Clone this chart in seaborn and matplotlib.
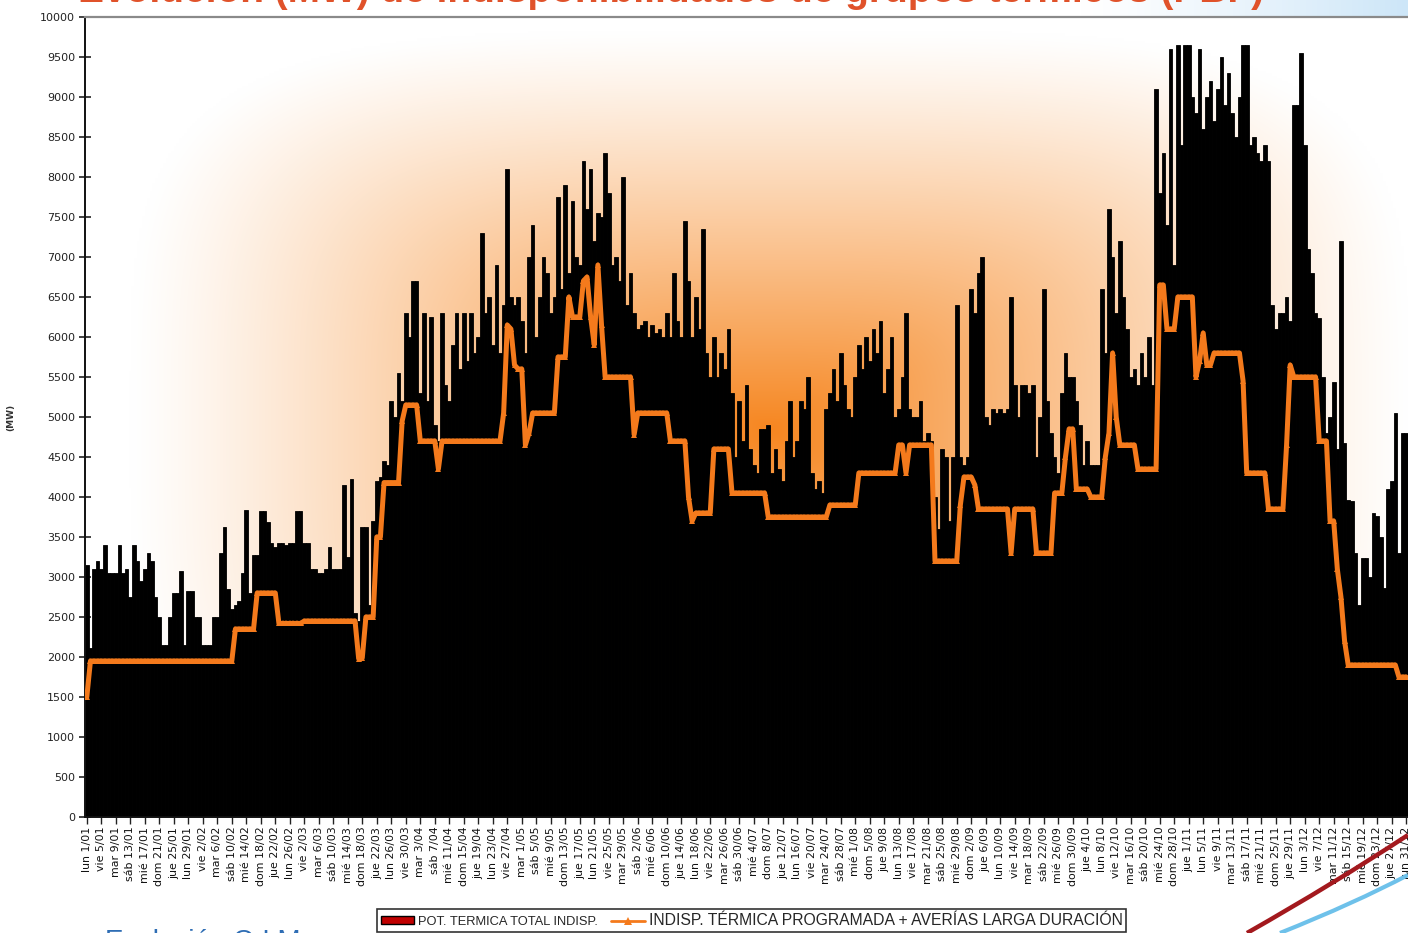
import numpy as np
import matplotlib
matplotlib.use("Agg")
import matplotlib.pyplot as plt
import seaborn as sns
from matplotlib.lines import Line2D
from matplotlib.patches import Patch, PathPatch
from matplotlib.path import Path

# ---------------------------------------------------------------------------
# Daily thermal unavailability 2007 (MW)
# ---------------------------------------------------------------------------
total_jan = [3150, 2110, 3100, 3200, 3100, 3400, 3050, 3050, 3050, 3400,
             3050, 3100, 2750, 3400, 3200, 2950, 3100, 3300, 3200, 2750,
             2500, 2150, 2150, 2500, 2800, 2800, 3080, 2150, 2830, 2830, 2500]
total_feb = [2500, 2150, 2150, 2150, 2500, 2500, 3300, 3630, 2850, 2600,
             2650, 2700, 3050, 3840, 2800, 3280, 3280, 3830, 3830, 3690,
             3420, 3380, 3420, 3420, 3400, 3420, 3420, 3830]
total_mar = [3830, 3420, 3420, 3100, 3100, 3050, 3050, 3100, 3380, 3100,
             3100, 3100, 4150, 3250, 4230, 2550, 2450, 3630, 3630, 2650,
             3700, 4200, 4250, 4450, 4400, 5200, 5000, 5550, 5200, 6300, 6000]
total_apr = [6700, 6700, 5300, 6300, 5200, 6250, 4900, 4700, 6300, 5400,
             5200, 5900, 6300, 5600, 6300, 5700, 6300, 5800, 6000, 7300,
             6300, 6500, 5900, 6900, 5800, 6400, 8100, 6500, 6400, 6500]
total_may = [6200, 5800, 7000, 7400, 6000, 6500, 7000, 6800, 6300, 6500,
             7750, 6600, 7900, 6800, 7700, 7000, 6900, 8200, 7600, 8100,
             7200, 7550, 7500, 8300, 7800, 6900, 7000, 6700, 8000, 6400, 6800]
total_jun = [6300, 6100, 6150, 6200, 6000, 6150, 6050, 6100, 6000, 6300,
             6000, 6800, 6200, 6000, 7450, 6700, 6000, 6500, 6100, 7350,
             5800, 5500, 6000, 5500, 5800, 5600, 6100, 5300, 4500, 5200]
total_jul = [4700, 5400, 4600, 4400, 4300, 4850, 4850, 4900, 4300, 4600,
             4350, 4200, 4700, 5200, 4500, 4700, 5200, 5100, 5500, 4300,
             4100, 4200, 4050, 5100, 5300, 5600, 5200, 5800, 5400, 5100, 5000]
total_aug = [5500, 5900, 5600, 6000, 5700, 6100, 5800, 6200, 5300, 5600,
             6000, 5000, 5100, 5500, 6300, 5100, 5000, 5000, 5200, 4700,
             4800, 4700, 4000, 3600, 4600, 4500, 3700, 4500, 6400, 4500, 4400]
total_sep = [4500, 6600, 6300, 6800, 7000, 5000, 4900, 5100, 5050, 5100,
             5050, 5100, 6500, 5400, 5000, 5400, 5400, 5300, 5400, 4500,
             5000, 6600, 5200, 4800, 4500, 4300, 5300, 5800, 5500, 5500]
total_oct = [5200, 4900, 4400, 4700, 4400, 4400, 4400, 6600, 5800, 7600,
             7000, 6300, 7200, 6500, 6100, 5500, 5600, 5400, 5800, 5500,
             6000, 5400, 9100, 7800, 8300, 7400, 9600, 6900, 9650, 8400, 9650]
total_nov = [9650, 9000, 8800, 9600, 8600, 9000, 9200, 8700, 9100, 9500,
             8900, 9300, 8800, 8500, 9000, 9650, 9650, 8400, 8500, 8300,
             8200, 8400, 8200, 6400, 6100, 6300, 6300, 6500, 6200, 8900]
total_dec = [8900, 9550, 8400, 7100, 6800, 6300, 6240, 5500, 4800, 5000,
             5440, 4600, 7200, 4680, 3960, 3950, 3300, 2650, 3240, 3240,
             3000, 3800, 3760, 3500, 2860, 4100, 4200, 5050, 3300, 4800, 4800]

prog_jan = [1500, 1950, 1950, 1950, 1950, 1950, 1950, 1950, 1950, 1950,
            1950, 1950, 1950, 1950, 1950, 1950, 1950, 1950, 1950, 1950,
            1950, 1950, 1950, 1950, 1950, 1950, 1950, 1950, 1950, 1950, 1950]
prog_feb = [1950, 1950, 1950, 1950, 1950, 1950, 1950, 1950, 1950, 1950,
            2350, 2350, 2350, 2350, 2350, 2350, 2800, 2800, 2800, 2800,
            2800, 2800, 2420, 2420, 2420, 2420, 2420, 2420]
prog_mar = [2420, 2450, 2450, 2450, 2450, 2450, 2450, 2450, 2450, 2450,
            2450, 2450, 2450, 2450, 2450, 2450, 1980, 1990, 2500, 2500,
            2500, 3500, 3500, 4180, 4180, 4180, 4180, 4180, 4950, 5150, 5150]
prog_apr = [5150, 5150, 4700, 4700, 4700, 4700, 4700, 4350, 4700, 4700,
            4700, 4700, 4700, 4700, 4700, 4700, 4700, 4700, 4700, 4700,
            4700, 4700, 4700, 4700, 4700, 5050, 6150, 6100, 5650, 5600]
prog_may = [5600, 4650, 4800, 5050, 5050, 5050, 5050, 5050, 5050, 5050,
            5750, 5750, 5750, 6500, 6250, 6250, 6250, 6700, 6750, 6250,
            5900, 6900, 6150, 5500, 5500, 5500, 5500, 5500, 5500, 5500, 5500]
prog_jun = [4780, 5050, 5050, 5050, 5050, 5050, 5050, 5050, 5050, 5050,
            4700, 4700, 4700, 4700, 4700, 4000, 3700, 3800, 3800, 3800,
            3800, 3800, 4600, 4600, 4600, 4600, 4600, 4050, 4050, 4050]
prog_jul = [4050, 4050, 4050, 4050, 4050, 4050, 4050, 3750, 3750, 3750,
            3750, 3750, 3750, 3750, 3750, 3750, 3750, 3750, 3750, 3750,
            3750, 3750, 3750, 3750, 3900, 3900, 3900, 3900, 3900, 3900, 3900]
prog_aug = [3900, 4300, 4300, 4300, 4300, 4300, 4300, 4300, 4300, 4300,
            4300, 4300, 4650, 4650, 4300, 4650, 4650, 4650, 4650, 4650,
            4650, 4650, 3200, 3200, 3200, 3200, 3200, 3200, 3200, 3900, 4250]
prog_sep = [4250, 4250, 4150, 3850, 3850, 3850, 3850, 3850, 3850, 3850,
            3850, 3850, 3300, 3850, 3850, 3850, 3850, 3850, 3850, 3300,
            3300, 3300, 3300, 3300, 4050, 4050, 4050, 4500, 4850, 4850]
prog_oct = [4100, 4100, 4100, 4100, 4000, 4000, 4000, 4000, 4500, 4800,
            5800, 5000, 4650, 4650, 4650, 4650, 4650, 4350, 4350, 4350,
            4350, 4350, 4350, 6650, 6650, 6100, 6100, 6100, 6500, 6500, 6500]
prog_nov = [6500, 6500, 5500, 5700, 6050, 5650, 5650, 5800, 5800, 5800,
            5800, 5800, 5800, 5800, 5800, 5450, 4300, 4300, 4300, 4300,
            4300, 4300, 3850, 3850, 3850, 3850, 3850, 4650, 5650, 5500]
prog_dec = [5500, 5500, 5500, 5500, 5500, 5500, 4700, 4700, 4700, 3700,
            3700, 3100, 2750, 2200, 1900, 1900, 1900, 1900, 1900, 1900,
            1900, 1900, 1900, 1900, 1900, 1900, 1900, 1900, 1750, 1750, 1750]

total_indisp = (total_jan + total_feb + total_mar + total_apr + total_may +
                total_jun + total_jul + total_aug + total_sep + total_oct +
                total_nov + total_dec)
programada = (prog_jan + prog_feb + prog_mar + prog_apr + prog_may +
              prog_jun + prog_jul + prog_aug + prog_sep + prog_oct +
              prog_nov + prog_dec)
days = np.arange(len(total_indisp))

tick_labels = [
    "lun 1/01", "vie 5/01", "mar 9/01", "sáb 13/01", "mié 17/01", "dom 21/01",
    "jue 25/01", "lun 29/01", "vie 2/02", "mar 6/02", "sáb 10/02", "mié 14/02",
    "dom 18/02", "jue 22/02", "lun 26/02", "vie 2/03", "mar 6/03", "sáb 10/03",
    "mié 14/03", "dom 18/03", "jue 22/03", "lun 26/03", "vie 30/03", "mar 3/04",
    "sáb 7/04", "mié 11/04", "dom 15/04", "jue 19/04", "lun 23/04", "vie 27/04",
    "mar 1/05", "sáb 5/05", "mié 9/05", "dom 13/05", "jue 17/05", "lun 21/05",
    "vie 25/05", "mar 29/05", "sáb 2/06", "mié 6/06", "dom 10/06", "jue 14/06",
    "lun 18/06", "vie 22/06", "mar 26/06", "sáb 30/06", "mié 4/07", "dom 8/07",
    "jue 12/07", "lun 16/07", "vie 20/07", "mar 24/07", "sáb 28/07", "mié 1/08",
    "dom 5/08", "jue 9/08", "lun 13/08", "vie 17/08", "mar 21/08", "sáb 25/08",
    "mié 29/08", "dom 2/09", "jue 6/09", "lun 10/09", "vie 14/09", "mar 18/09",
    "sáb 22/09", "mié 26/09", "dom 30/09", "jue 4/10", "lun 8/10", "vie 12/10",
    "mar 16/10", "sáb 20/10", "mié 24/10", "dom 28/10", "jue 1/11", "lun 5/11",
    "vie 9/11", "mar 13/11", "sáb 17/11", "mié 21/11", "dom 25/11", "jue 29/11",
    "lun 3/12", "vie 7/12", "mar 11/12", "sáb 15/12", "mié 19/12", "dom 23/12",
    "jue 27/12", "lun 31/12",
]
tick_step = 4
y_ticks = list(range(0, 10001, 500))

title = "Evolución (MW) de indisponibilidades de grupos térmicos (PBF)"
legend_total = "POT. TERMICA TOTAL INDISP."
legend_prog = "INDISP. TÉRMICA PROGRAMADA + AVERÍAS LARGA DURACIÓN"

ORANGE = "#F47A1C"
TITLE_RED = "#E0522A"

# ---------------------------------------------------------------------------
sns.set_theme(style="ticks")
plt.rcParams["font.family"] = ["DejaVu Sans"]

W, H = 1408, 933
fig = plt.figure(figsize=(W / 100, H / 100), dpi=100)
fig.patch.set_facecolor("white")

ax_left, ax_right, ax_top, ax_bottom = 85, 1408, 17, 817
ax = fig.add_axes([ax_left / W, (H - ax_bottom) / H,
                   (ax_right - ax_left) / W, (ax_bottom - ax_top) / H])

# soft orange glow behind the series
nx, ny = 500, 320
fx = np.linspace(0, 1, nx)
fy = np.linspace(0, 1, ny)
FX, FY = np.meshgrid(fx, fy)
px = ax_left + FX * (ax_right - ax_left)
py = ax_bottom - FY * (ax_bottom - ax_top)
cx, cy, rx, ry = 770, 430, 640, 400
t = ((np.abs(px - cx) / rx) ** 4 + (np.abs(py - cy) / ry) ** 4) ** (1 / 4)
wgt = np.clip(1 - t, 0, 1) ** 1.15
c_in = np.array([246, 134, 32]) / 255
c_out = np.array([255, 255, 255]) / 255
img = c_out[None, None, :] * (1 - wgt[..., None]) + c_in[None, None, :] * wgt[..., None]

xmin, xmax = -0.5, len(days) - 0.5
ax.imshow(img, extent=(xmin, xmax, 0, 10000), origin="lower",
          aspect="auto", zorder=0, interpolation="bilinear")

sns.barplot(x=days, y=total_indisp, native_scale=True, color="black",
            width=1.0, errorbar=None, edgecolor="black", linewidth=0.6,
            saturation=1, ax=ax, zorder=2)
sns.lineplot(x=days, y=programada, color=ORANGE, linewidth=3.6,
             marker="^", markersize=5, markeredgewidth=0,
             markerfacecolor=ORANGE, ax=ax, legend=False, zorder=3)

ax.set_xlim(xmin, xmax)
ax.set_ylim(0, 10000)
ax.set_facecolor("white")

ax.set_yticks(y_ticks)
ax.set_yticklabels([str(v) for v in y_ticks], fontsize=8, color="#222222")
ax.set_xticks(days[::tick_step])
ax.set_xticklabels(tick_labels, rotation=90, fontsize=7.9, color="#111111")
ax.tick_params(axis="y", direction="inout", length=8, width=1.2,
               color="#222222", pad=3)
ax.tick_params(axis="x", direction="out", length=5, width=1.0,
               color="#222222", pad=2)

ax.set_xlabel("")
ax.set_ylabel("(MW)", fontsize=6.5, fontweight="bold", color="#333333")
ax.yaxis.set_label_coords(-0.053, 0.5)

for side in ("left", "bottom"):
    ax.spines[side].set_color("#111111")
    ax.spines[side].set_linewidth(1.4)
ax.spines["top"].set_color("#8a8a8a")
ax.spines["top"].set_linewidth(1.6)
ax.spines["right"].set_visible(False)

# pale blue band in the upper right corner of the slide
band = fig.add_axes([1080 / W, (H - 16) / H, (W - 1080) / W, 16 / H], zorder=-1)
g = np.linspace(0, 1, 300) ** 1.2
band_img = (np.array([1, 1, 1])[None, :] * (1 - g[:, None]) +
            np.array([205, 230, 248])[None, :] / 255 * g[:, None])
band.imshow(band_img[None, :, :], aspect="auto", extent=(0, 1, 0, 1))
band.axis("off")

# title (partly above the visible area)
fig.text(78 / W, 1 - 2 / H, title, ha="left", va="baseline",
         fontsize=28, fontweight="bold", color=TITLE_RED,
         family=["Liberation Sans", "DejaVu Sans"])

# footer text, partly below the visible area
fig.text(105 / W, -16 / H, "Evolución O.I.M.", ha="left", va="baseline",
         fontsize=20, color="#2E6DB4",
         family=["Liberation Sans", "DejaVu Sans"])

# decorative swooshes at the bottom right
red_curve = Path([(1247 / W, 0.0), (1335 / W, 50 / H), (1.0, 98 / H)],
                 [Path.MOVETO, Path.CURVE3, Path.CURVE3])
blue_curve = Path([(1280 / W, 0.0), (1355 / W, 30 / H), (1.0, 58 / H)],
                  [Path.MOVETO, Path.CURVE3, Path.CURVE3])
fig.add_artist(PathPatch(blue_curve, transform=fig.transFigure, fill=False,
                         edgecolor="#6EC1EA", linewidth=3, zorder=5))
fig.add_artist(PathPatch(red_curve, transform=fig.transFigure, fill=False,
                         edgecolor="#A3191E", linewidth=3.2, zorder=5))

# legend
handles = [
    Patch(facecolor="#C00000", edgecolor="black", linewidth=1.0),
    Line2D([0], [0], color=ORANGE, linewidth=2, marker="^", markersize=6,
           markeredgewidth=0),
]
leg = fig.legend(handles, [legend_total, legend_prog], ncol=2,
                 loc="upper left", bbox_to_anchor=(377 / W, 1 - 909 / H),
                 frameon=True, fancybox=False,
                 handlelength=2.6, handleheight=0.6, handletextpad=0.3,
                 columnspacing=1.0, borderpad=0.3, borderaxespad=0,
                 prop={"family": ["Liberation Sans", "DejaVu Sans"], "size": 9.3})
leg_texts = leg.get_texts()
leg_texts[0].set_fontsize(9.3)
leg_texts[1].set_fontsize(11.3)
leg.get_frame().set_edgecolor("black")
leg.get_frame().set_linewidth(1.2)

fig.savefig("out.png", dpi=100)
